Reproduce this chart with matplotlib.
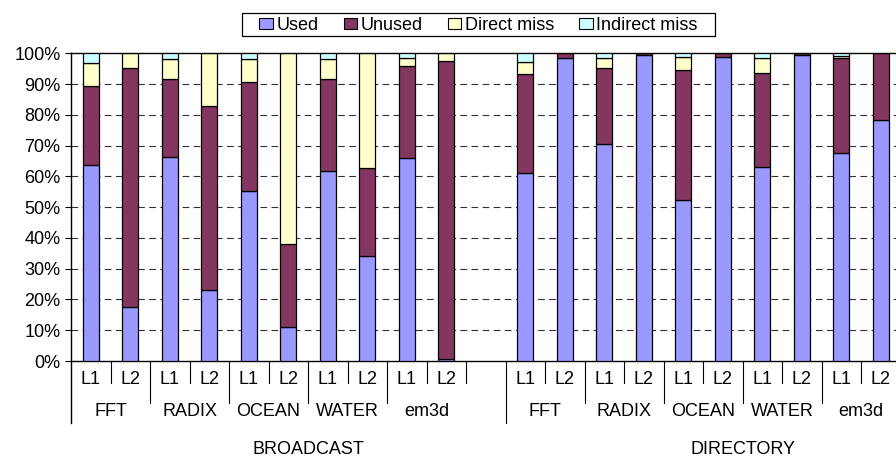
import matplotlib
matplotlib.use("Agg")
import matplotlib.pyplot as plt
from matplotlib.patches import Patch, Rectangle
import numpy as np

plt.rcParams['font.family'] = ['Liberation Sans', 'DejaVu Sans']

levels = ["L1", "L2"]
apps = ["FFT", "RADIX", "OCEAN", "WATER", "em3d"]
schemes = ["BROADCAST", "DIRECTORY"]
series = ["Used", "Unused", "Direct miss", "Indirect miss"]
colors = ["#9999FF", "#833660", "#FFFFCC", "#CCFFFF"]

# percent of lines, bars ordered FFT L1, FFT L2, RADIX L1, ...
used_b = [63.8, 17.5, 66.2, 23.0, 55.1, 11.2, 61.7, 34.1, 65.9, 0.5]
unused_b = [25.5, 77.6, 25.4, 60.0, 35.5, 26.9, 29.9, 28.5, 29.9, 97.0]
direct_b = [7.7, 4.9, 6.4, 17.0, 7.4, 61.9, 6.4, 37.4, 2.6, 2.5]
indirect_b = [3.0, 0, 2.0, 0, 2.0, 0, 2.0, 0, 1.6, 0]

used_d = [61.2, 98.4, 70.6, 99.3, 52.3, 98.9, 62.9, 99.3, 67.5, 78.2]
unused_d = [32.1, 1.6, 24.5, 0.7, 42.3, 1.1, 30.8, 0.7, 30.9, 21.8]
direct_d = [4.0, 0, 3.3, 0, 4.3, 0, 4.7, 0, 0.8, 0]
indirect_d = [2.7, 0, 1.6, 0, 1.1, 0, 1.6, 0, 0.8, 0]

# one empty slot between the two schemes
gap = [np.nan]
data = [used_b + gap + used_d,
        unused_b + gap + unused_d,
        direct_b + gap + direct_d,
        indirect_b + gap + indirect_d]

n = len(data[0])
x = np.arange(n)

W, H = 896, 457
fig = plt.figure(figsize=(W / 100, H / 100), dpi=100)
cat_w = 39.5
ax_left, ax_bottom, ax_top = 71, 361, 53.3
ax = fig.add_axes([ax_left / W, (H - ax_bottom) / H,
                   n * cat_w / W, (ax_bottom - ax_top) / H])

bottom = np.zeros(n)
for vals, col in zip(data, colors):
    vals = np.array(vals, dtype=float)
    ok = ~np.isnan(vals)
    ax.bar(x[ok], vals[ok], 0.405, bottom=bottom[ok], color=col, edgecolor="black",
           linewidth=0.9, zorder=3)
    bottom += np.nan_to_num(vals)

ax.set_xlim(-0.5, n - 0.5)
ax.set_ylim(0, 100)
ax.set_yticks(np.arange(0, 101, 10))
ax.set_yticklabels([f"{v}%" for v in range(0, 101, 10)])
ax.tick_params(axis="y", direction="out", length=4.5, width=0.8, pad=3, labelsize=13)
ax.set_xticks([])
for v in range(10, 100, 10):
    ax.axhline(v, color="#303030", lw=0.8, ls=(0, (6, 4)), zorder=1)
ax.spines["right"].set_visible(False)
ax.spines["left"].set_visible(False)
ax.spines["top"].set_linewidth(1.0)
ax.spines["bottom"].set_linewidth(1.0)

# multi-level category axis
tr = ax.get_xaxis_transform()
ph = ax_bottom - ax_top
short_y = -22 / ph
group_y = -42 / ph
outer_y = -62 / ph
ax.plot([-0.5, -0.5], [1, outer_y], color="black", lw=1.0, transform=tr, clip_on=False)
for k in range(1, n + 1):
    xb = k - 0.5
    if k == 11:
        yb = outer_y
    elif k < 11 and k % 2 == 0 and k != 10:
        yb = group_y
    elif k > 11 and (k - 11) % 2 == 0 and k != 21:
        yb = group_y
    else:
        yb = short_y
    ax.plot([xb, xb], [0, yb], color="black", lw=0.8, transform=tr, clip_on=False)

for s in range(2):
    base = s * 11
    for a, app in enumerate(apps):
        for l, lev in enumerate(levels):
            ax.text(base + 2 * a + l, -19 / ph, lev, transform=tr, ha="center",
                    va="center", fontsize=13)
        ax.text(base + 2 * a + 0.5, -51 / ph, app, transform=tr, ha="center",
                va="center", fontsize=13)
    ax.text(base + 5.5, -88 / ph, schemes[s], transform=tr, ha="center",
            va="center", fontsize=13)

handles = [Patch(facecolor=c, edgecolor="black", linewidth=0.8) for c in colors]
leg = fig.legend(handles, series, loc="center", bbox_to_anchor=(478.5 / W, 1 - 25 / H),
                 ncol=4, fontsize=13, frameon=False, borderpad=0.1,
                 handlelength=0.75, handleheight=0.55, handletextpad=0.2,
                 columnspacing=1.38, borderaxespad=0)
fig.patches.append(Rectangle((242 / W, 1 - 36 / H), (715 - 242) / W, 23 / H,
                             transform=fig.transFigure, fill=False,
                             edgecolor="black", linewidth=0.9))

fig.savefig("out.png", dpi=100)
